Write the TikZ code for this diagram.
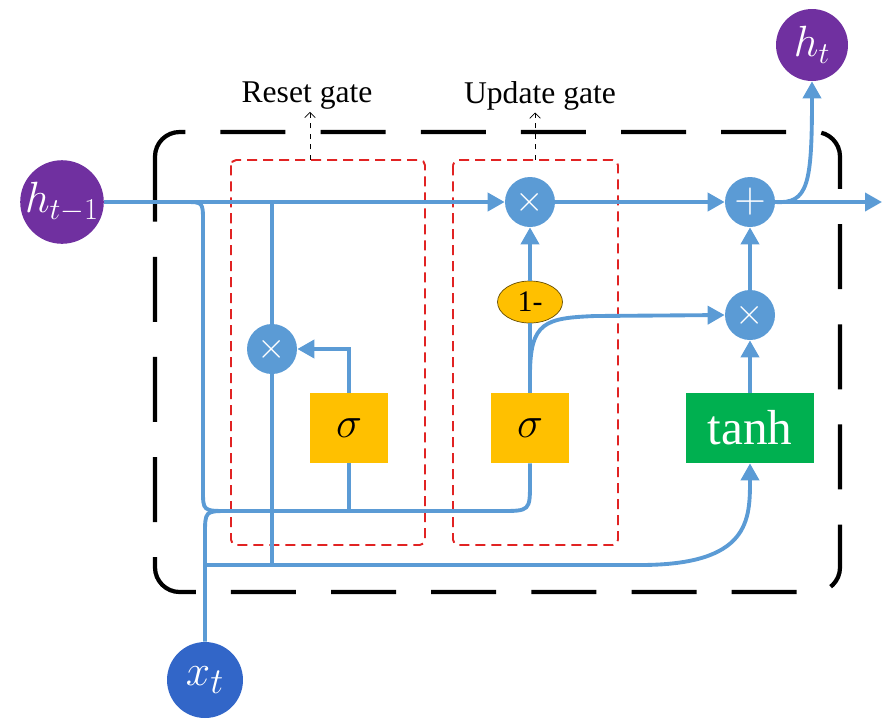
\documentclass[tikz,border=0pt]{standalone}
\usepackage{fontspec}
\setmainfont{Liberation Serif}
\usepackage{amsmath}
\usetikzlibrary{arrows.meta, shapes.geometric}
\definecolor{lineblue}{RGB}{91,155,213}
\definecolor{statepurple}{RGB}{112,48,160}
\definecolor{inputblue}{RGB}{50,102,200}
\definecolor{gateorange}{RGB}{255,192,0}
\definecolor{tanhgreen}{RGB}{0,176,80}
\definecolor{gatered}{RGB}{225,35,35}
\tikzset{
    flow/.style={lineblue, line width=2.2pt},
    flowarrow/.style={flow, -{Triangle[length=0.34cm, width=0.36cm]}},
    opnode/.style={circle, fill=lineblue, minimum size=1cm, inner sep=0pt, text=white,
        font=\fontsize{20}{22}\selectfont},
    statenode/.style={circle, fill=statepurple, minimum size=1.52cm, inner sep=0pt, text=white,
        font=\fontsize{24}{26}\selectfont},
    gatebox/.style={fill=gateorange, minimum width=1.56cm, minimum height=1.4cm, inner sep=0pt,
        font=\fontsize{30}{32}\selectfont},
    gateframe/.style={draw=gatered, line width=1.1pt, dash pattern=on 5.7pt off 3.4pt, rounded corners=3pt},
    gatelabel/.style={font=\fontsize{18}{20}\selectfont, inner sep=1pt}
}
\begin{document}
\begin{tikzpicture}[x=0.02cm, y=-0.02cm]
        \useasboundingbox (0,0) rectangle (882,718);
        % Draw the cell and the two gate frames
            \draw[black, line width=2.4pt, dash pattern=on 37pt off 20pt, rounded corners=14pt]
                (155,132) rectangle (840,592);
            \draw[gateframe] (231,160) rectangle (425,545);
            \draw[gateframe] (453,160) rectangle (618,545);
            \node[gatelabel] (resetlabel) at (307,96) {Reset gate};
            \node[gatelabel] (updatelabel) at (540,96) {Update gate};
            \coordinate (resettop) at (310,160);
            \coordinate (updatetop) at (535,160);
            \draw[black, thin, dashed, -{Straight Barb[length=3pt, width=6pt]}]
                (resettop) -- (resettop |- resetlabel.south);
            \draw[black, thin, dashed, -{Straight Barb[length=3pt, width=6pt]}]
                (updatetop) -- (updatetop |- updatelabel.south);
        % Inputs and outputs
            \node[statenode] (hprev) at (62,202) {$h_{t-1}$};
            \node[statenode, minimum size=1.44cm] (hnext) at (812,45) {$h_t$};
            \node[statenode, fill=inputblue, font=\fontsize{28}{30}\selectfont] (xin) at (205,680) {$x_t$};
        % Gates and operations
            \node[opnode] (resmul) at (272,349) {$\times$};
            \node[opnode] (updmul) at (530,202) {$\times$};
            \node[opnode, font=\fontsize{24}{26}\selectfont] (plus) at (750,202) {$+$};
            \node[opnode] (lowmul) at (750,315) {$\times$};
            \node[gatebox] (ressig) at (349,428) {$\sigma$};
            \node[gatebox] (updsig) at (530,428) {$\sigma$};
            \node[ellipse, fill=gateorange, draw=black!60!gateorange, thin, minimum width=1.3cm,
                minimum height=0.84cm, inner sep=0pt, font=\fontsize{17}{18}\selectfont]
                (oneminus) at (530,302) {1-};
            \node[fill=tanhgreen, text=white, minimum width=2.58cm, minimum height=1.4cm, inner sep=0pt,
                font=\fontsize{28}{30}\selectfont] (tanh) at (750,428) {tanh};
        % Junction points
            \coordinate (split) at (185,202);
            \coordinate (bus) at (228,511);
            \coordinate (xbus) at (205,565);
            \coordinate (resettap) at (272,202);
            \coordinate (out) at (882,202);
        % Main line
            \draw[flowarrow] (hprev) -- (updmul);
            \draw[flowarrow] (updmul) -- (plus);
            \draw[flowarrow] (plus) -- (out);
            \draw[flowarrow] (plus.east) .. controls (808,204) and (812,185) .. (hnext.south);
        % Inputs to the gates
            \draw[flow] (split) .. controls (203,202) .. (203,222) -- (203,490)
                .. controls (203,511) .. (bus) -- (500,511) .. controls (530,511) .. (530,482)
                -- (updsig.south);
            \draw[flow] (xin.north) -- (205,535) .. controls (205,511) .. (bus);
            \draw[flow] (ressig.south) -- (ressig.south |- bus);
            \draw[flowarrow] (xbus) -- (640,565) .. controls (750,565) and (750,520) .. (tanh.south);
        % Reset gate
            \draw[flow] (resettap) -- (resmul.north);
            \draw[flow] (resmul.south) -- (resmul.south |- xbus);
            \draw[flowarrow] (ressig.north) |- (resmul.east);
        % Update gate
            \draw[flow] (updsig.north) -- (oneminus.south);
            \draw[flowarrow] (oneminus.north) -- (updmul.south);
            \draw[flowarrow] (530,375) .. controls (530,322) and (545,318) .. (595,316) -- (lowmul.west);
            \draw[flowarrow] (tanh.north) -- (lowmul.south);
            \draw[flowarrow] (lowmul.north) -- (plus.south);
    \end{tikzpicture}
\end{document}
